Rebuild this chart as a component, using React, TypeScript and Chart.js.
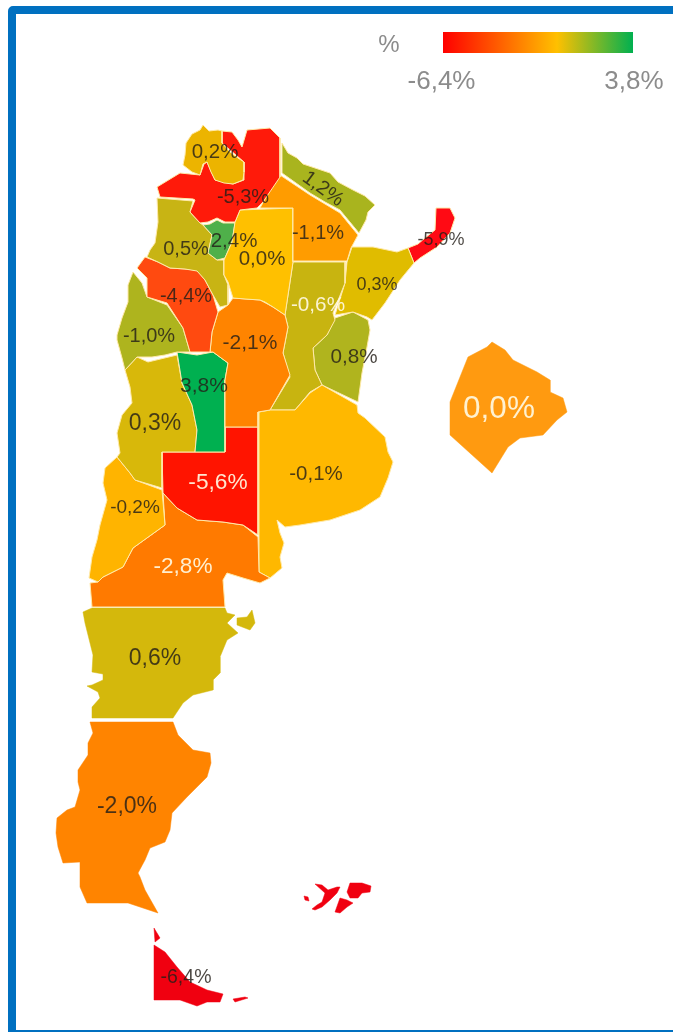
import React, { useEffect, useRef } from "react";
import { Chart, registerables } from "chart.js";

Chart.register(...registerables);

type P = [number, number];

const regionNames = ["Jujuy", "Salta", "Formosa", "Chaco", "Santiago del Estero", "Tucumán", "Catamarca", "La Rioja", "San Juan", "Córdoba", "San Luis", "Mendoza", "La Pampa", "Neuquén", "Río Negro", "Buenos Aires", "Santa Fe", "Corrientes", "Entre Ríos", "Misiones", "CABA", "Chubut", "Santa Cruz", "Tierra del Fuego"];
const regionValues = [0.2, -5.3, 1.2, -1.1, 0.0, 2.4, 0.5, -4.4, -1.0, -2.1, 3.8, 0.3, -5.6, -0.2, -2.8, -0.1, -0.6, 0.3, 0.8, -5.9, 0.0, 0.6, -2.0, -6.4];
const regionColors = ["#ecb400", "#ff1a0a", "#a9b41e", "#ff9c00", "#ffc000", "#4fb04a", "#c8b414", "#ff4a10", "#aeb41e", "#ff8400", "#00b050", "#d8b80a", "#ff1400", "#ffb400", "#ff7a00", "#ffb800", "#c8b410", "#e0bc00", "#b0b41e", "#ff0a14", "#ff9a10", "#d4b80c", "#ff8400", "#f00010"];
const labelAnchors: P[] = [[215, 152], [243, 197], [323, 189], [318, 233], [262, 259], [234, 241], [186, 249], [186, 296], [149, 336], [250, 343], [204, 386], [155, 424], [218, 483], [135, 508], [183, 567], [316, 474], [318, 305], [377, 285], [354, 357], [441, 240], [499, 409], [155, 659], [127, 807], [186, 978]];
const labelFontSizes = [20.5, 20, 20, 20, 20.5, 20.5, 20, 20, 20, 21, 21, 23, 22.7, 19, 22.6, 20.5, 20.7, 18, 20.7, 18, 31.5, 23, 23, 19.5];
const labelLight = [0, 0, 0, 0, 0, 0, 0, 0, 0, 0, 0, 0, 1, 0, 1, 0, 1, 0, 0, 0, 1, 0, 0, 0];
const labelRotation = [0, 0, 36, 0, 0, 0, 0, 0, 0, 0, 0, 0, 0, 0, 0, 0, 0, 0, 0, 0, 0, 0, 0, 0];

const jujuy: P[] = [[203, 125], [209, 131], [218, 130], [222, 131], [222, 143], [230, 152], [238, 158], [244, 162], [244, 172], [243, 180], [233, 184], [224, 183], [215, 180], [211, 172], [207, 162], [203, 164], [200, 175], [192, 172], [183, 165], [185, 155], [186, 143], [192, 134], [200, 130]];
const salta: P[] = [[222, 131], [232, 132], [238, 140], [242, 147], [247, 130], [270, 128], [280, 138], [280, 177], [263, 202], [257, 208], [240, 210], [235, 222], [225, 222], [217, 218], [208, 222], [200, 223], [190, 212], [195, 200], [193, 199], [160, 197], [157, 187], [180, 173], [200, 175], [204, 164], [207, 162], [215, 180], [233, 184], [244, 180], [244, 162], [222, 143]];
const formosa: P[] = [[282, 143], [288, 153], [297, 158], [303, 164], [315, 168], [330, 173], [338, 182], [353, 190], [365, 196], [375, 205], [368, 212], [366, 220], [359, 233], [340, 210], [325, 202], [310, 193], [282, 173]];
const chaco: P[] = [[280, 175], [310, 195], [325, 204], [340, 213], [358, 235], [351, 248], [347, 261], [293, 261], [293, 208], [260, 208], [270, 190]];
const santiago: P[] = [[240, 210], [293, 208], [293, 262], [285, 315], [273, 307], [265, 302], [260, 300], [245, 299], [233, 298], [228, 282], [224, 275], [224, 260], [232, 242], [235, 222]];
const tucuman: P[] = [[203, 225], [210, 224], [217, 220], [223, 223], [235, 223], [232, 242], [225, 258], [217, 260], [208, 253], [212, 235]];
const catamarca: P[] = [[157, 198], [193, 201], [190, 212], [200, 223], [203, 225], [212, 235], [208, 253], [217, 260], [224, 260], [224, 275], [228, 285], [228, 305], [220, 307], [213, 295], [205, 280], [197, 271], [185, 269], [170, 268], [158, 262], [147, 257], [150, 250], [155, 243], [158, 222]];
const laRioja: P[] = [[137, 268], [145, 257], [158, 262], [170, 268], [185, 269], [197, 270], [205, 280], [213, 295], [218, 312], [212, 332], [210, 352], [190, 352], [183, 328], [167, 303], [147, 297], [147, 278]];
const sanJuan: P[] = [[133, 272], [142, 283], [147, 297], [167, 305], [183, 328], [190, 352], [177, 352], [165, 355], [152, 357], [137, 357], [125, 370], [122, 358], [117, 340], [117, 335], [122, 318], [128, 302], [128, 285]];
const cordoba: P[] = [[233, 298], [260, 300], [273, 307], [285, 315], [288, 327], [283, 353], [290, 375], [270, 410], [258, 412], [258, 427], [225, 427], [225, 380], [228, 363], [213, 352], [210, 352], [212, 332], [218, 312], [228, 305]];
const sanLuis: P[] = [[177, 352], [197, 355], [213, 352], [228, 363], [225, 380], [225, 452], [195, 452], [197, 430], [192, 405], [182, 383]];
const mendoza: P[] = [[125, 370], [137, 357], [148, 362], [177, 355], [182, 383], [192, 405], [197, 430], [195, 452], [162, 452], [162, 488], [135, 480], [130, 473], [117, 457], [120, 453], [117, 433], [122, 415], [132, 403], [130, 387]];
const laPampa: P[] = [[225, 427], [258, 427], [258, 535], [243, 525], [223, 522], [197, 520], [177, 508], [163, 493], [162, 452], [225, 452]];
const neuquen: P[] = [[117, 457], [130, 473], [135, 480], [162, 490], [165, 525], [133, 548], [123, 567], [103, 577], [98, 582], [89, 578], [92, 557], [97, 540], [100, 525], [107, 500], [103, 483], [105, 468]];
const rioNegro: P[] = [[163, 493], [177, 508], [197, 520], [223, 522], [243, 525], [258, 537], [259, 572], [270, 578], [260, 583], [243, 578], [227, 573], [223, 580], [225, 607], [92, 607], [90, 583], [98, 582], [103, 577], [123, 567], [133, 548], [165, 525]];
const buenosAires: P[] = [[259, 412], [270, 410], [295, 410], [310, 393], [322, 385], [357, 405], [358, 413], [365, 418], [385, 437], [388, 452], [393, 462], [388, 478], [380, 497], [360, 510], [330, 520], [300, 525], [285, 527], [277, 520], [280, 533], [284, 543], [280, 557], [282, 568], [270, 578], [259, 572]];
const santaFe: P[] = [[293, 262], [345, 262], [345, 283], [333, 313], [335, 320], [327, 335], [313, 348], [315, 370], [322, 385], [310, 392], [295, 410], [270, 410], [290, 377], [283, 353], [288, 327], [285, 315]];
const corrientes: P[] = [[352, 247], [373, 247], [397, 252], [408, 248], [414, 263], [400, 280], [385, 303], [372, 320], [367, 317], [353, 312], [335, 315], [345, 283], [347, 262]];
const entreRios: P[] = [[335, 318], [353, 312], [368, 320], [370, 330], [367, 347], [362, 373], [358, 402], [322, 385], [315, 370], [313, 348], [327, 335]];
const misiones: P[] = [[408, 248], [418, 244], [425, 238], [435, 230], [436, 208], [450, 208], [455, 218], [450, 233], [437, 247], [420, 258], [414, 263]];
const caba: P[] = [[492, 342], [505, 350], [513, 360], [537, 372], [550, 380], [550, 392], [563, 398], [567, 412], [557, 420], [543, 435], [520, 438], [508, 447], [492, 473], [450, 435], [450, 402], [468, 357], [487, 347]];
const chubut: P[] = [[92, 608], [225, 608], [227, 613], [235, 615], [227, 623], [238, 633], [227, 640], [220, 657], [220, 673], [213, 680], [213, 690], [193, 695], [183, 703], [177, 712], [173, 718], [92, 718], [92, 707], [100, 698], [98, 692], [87, 686], [92, 685], [103, 680], [103, 674], [92, 672], [93, 655], [90, 643], [85, 623], [83, 612]];
const valdes: P[] = [[237, 618], [247, 617], [252, 610], [255, 623], [250, 630], [237, 625]];
const santaCruz: P[] = [[90, 722], [173, 722], [178, 735], [193, 750], [210, 753], [211, 763], [207, 777], [187, 797], [172, 813], [170, 830], [165, 842], [150, 848], [145, 860], [138, 873], [140, 877], [145, 890], [158, 913], [128, 903], [87, 903], [80, 887], [80, 862], [63, 863], [58, 847], [56, 833], [57, 818], [67, 810], [75, 807], [80, 790], [78, 782], [78, 770], [88, 755], [88, 743], [93, 733]];
const tierraDelFuego: P[] = [[154, 945], [165, 952], [177, 967], [190, 982], [207, 990], [223, 994], [220, 1002], [207, 1002], [197, 1006], [180, 1000], [154, 1000]];
const tdfNorth: P[] = [[154, 928], [160, 938], [155, 942]];
const isladeLosEstados: P[] = [[233, 999], [245, 997], [248, 998], [235, 1002]];
const malvinasWest: P[] = [[312, 909], [317, 905], [322, 902], [325, 893], [315, 884], [322, 885], [328, 890], [337, 887], [340, 887], [337, 893], [330, 900], [322, 907], [315, 910]];
const malvinasSouth: P[] = [[335, 912], [340, 898], [347, 900], [353, 903], [347, 907], [340, 913]];
const malvinasEast: P[] = [[347, 892], [350, 883], [362, 883], [371, 886], [370, 892], [362, 893], [358, 898], [350, 898]];
const malvinasIslet: P[] = [[304, 896], [308, 897], [309, 901], [305, 900]];

const regionOutlines: P[][][] = [[jujuy], [salta], [formosa], [chaco], [santiago], [tucuman], [catamarca], [laRioja], [sanJuan], [cordoba], [sanLuis], [mendoza], [laPampa], [neuquen], [rioNegro], [buenosAires], [santaFe], [corrientes], [entreRios], [misiones], [caba], [chubut, valdes], [santaCruz], [tierraDelFuego, tdfNorth, isladeLosEstados, malvinasWest, malvinasSouth, malvinasEast, malvinasIslet]];

const legendStops = ["#ff0000", "#ffc000", "#00b050"];
const legendStopPositions = [0, 0.6, 1];
const legendBarCorners: P[] = [[443, 32], [633, 53]];
const legendMin = -6.4;
const legendMax = 3.8;
const legendUnit = "%";
const legendUnitAnchor: P = [389, 45];
const legendLabelAnchors: P[] = [[441.5, 82], [634, 82]];

const fmt = (v: number) => v.toFixed(1).replace(".", ",") + "%";
const FONT = '"Liberation Sans", Arial, sans-serif';

const drawOverlay = {
  id: "mapOverlay",
  afterDatasetsDraw(chart: any) {
    const { ctx, scales } = chart;
    const px = (p: P): P => [scales.x.getPixelForValue(p[0]), scales.y.getPixelForValue(p[1])];
    ctx.save();
    ctx.textAlign = "center";
    ctx.textBaseline = "middle";
    regionValues.forEach((v, i) => {
      const [x, y] = px(labelAnchors[i]);
      ctx.save();
      ctx.translate(x, y);
      ctx.rotate((labelRotation[i] * Math.PI) / 180);
      ctx.font = `${labelFontSizes[i]}px ${FONT}`;
      ctx.fillStyle = labelLight[i] ? "rgba(255,248,225,0.92)" : "rgba(35,30,25,0.82)";
      ctx.fillText(fmt(v), 0, 0);
      ctx.restore();
    });
    const [a, b] = [px(legendBarCorners[0]), px(legendBarCorners[1])];
    const g = ctx.createLinearGradient(a[0], 0, b[0], 0);
    legendStops.forEach((c, i) => g.addColorStop(legendStopPositions[i], c));
    ctx.fillStyle = g;
    ctx.fillRect(a[0], a[1], b[0] - a[0], b[1] - a[1]);
    ctx.fillStyle = "#8c8c8c";
    ctx.font = `24px ${FONT}`;
    const u = px(legendUnitAnchor);
    ctx.fillText(legendUnit, u[0], u[1]);
    ctx.font = `26px ${FONT}`;
    const l0 = px(legendLabelAnchors[0]);
    const l1 = px(legendLabelAnchors[1]);
    ctx.fillText(fmt(legendMin), l0[0], l0[1]);
    ctx.fillText(fmt(legendMax), l1[0], l1[1]);
    ctx.restore();
  },
};

export default function App() {
  const ref = useRef<HTMLCanvasElement>(null);
  useEffect(() => {
    const datasets: any[] = [];
    regionOutlines.forEach((parts, i) => {
      parts.forEach((part, j) => {
        datasets.push({
          label: `${regionNames[i]} ${j}`,
          data: [...part, part[0]].map(([x, y]) => ({ x, y })),
          showLine: true,
          fill: "shape",
          tension: 0,
          backgroundColor: regionColors[i],
          borderColor: i >= 20 ? regionColors[i] : "#ffe9a8",
          borderWidth: i >= 20 ? 0.5 : 1,
          borderJoinStyle: "round",
          pointRadius: 0,
          pointHoverRadius: 0,
        });
      });
    });
    const chart = new Chart(ref.current!, {
      type: "scatter",
      data: { datasets },
      options: {
        responsive: false,
        animation: false,
        layout: { padding: 0 },
        events: [],
        plugins: { legend: { display: false }, tooltip: { enabled: false }, title: { display: false } },
        scales: {
          x: { type: "linear", min: 0, max: 673, display: false },
          y: { type: "linear", min: 0, max: 1032, reverse: true, display: false },
        },
      },
      plugins: [drawOverlay],
    } as any);
    return () => chart.destroy();
  }, []);
  return (
    <div style={{ position: "absolute", left: 0, top: 0, width: 673, height: 1032, overflow: "hidden", background: "#fff" }}>
      <canvas ref={ref} width={673} height={1032} style={{ position: "absolute", left: 0, top: 0, display: "block", filter: "blur(0.4px)" }} />
      <div style={{ position: "absolute", left: 8, top: 6, width: 680, height: 1032, boxSizing: "border-box", border: "8px solid #0070c0", borderRadius: 5, pointerEvents: "none" }} />
    </div>
  );
}
